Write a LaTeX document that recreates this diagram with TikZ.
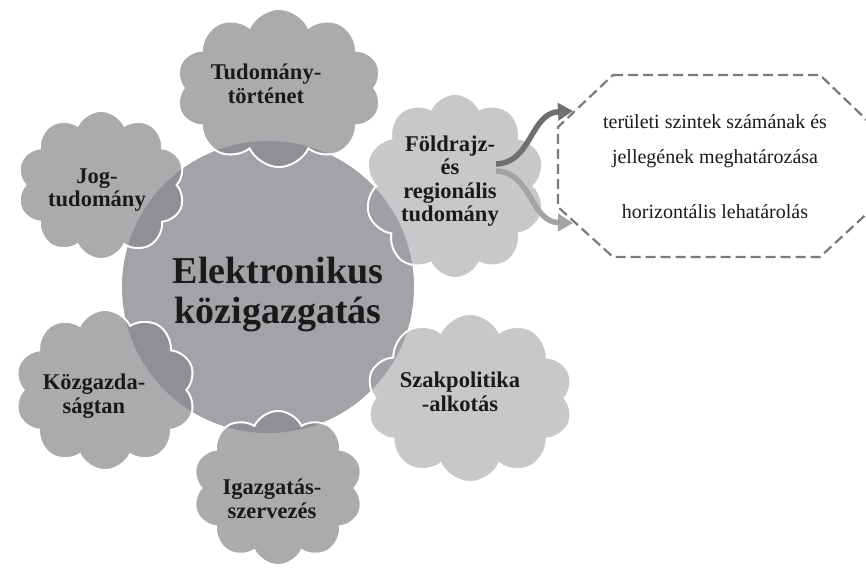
\documentclass[tikz,border=0pt]{standalone}
\usepackage{fontspec}
\setmainfont{Liberation Serif}
\usetikzlibrary{shapes.symbols,arrows.meta}
\definecolor{circfill}{HTML}{A1A3A6}
\definecolor{clouddark}{HTML}{A9ABAD}
\definecolor{cloudlight}{HTML}{C6C8CA}
\definecolor{ovdark}{HTML}{8E9094}
\definecolor{ovlight}{HTML}{9EA0A3}
\definecolor{txt}{HTML}{1A1A1A}
\definecolor{arrdk}{HTML}{6F6F6F}
\definecolor{arrlt}{HTML}{A3A3A3}
\definecolor{dashc}{HTML}{7A7A7A}
\tikzset{
  cloudbox/.style={cloud, cloud puffs=10, cloud puff arc=130, cloud ignores aspect,
    draw=white, line width=1.8pt, inner sep=0pt},
  lbl/.style={font=\fontsize{22.5}{23.5}\selectfont\bfseries, text=txt, align=center, inner sep=0pt},
  bigl/.style={font=\fontsize{38}{40}\selectfont\bfseries, text=txt, align=center, inner sep=0pt},
  htxt/.style={font=\fontsize{20}{24}\selectfont, text=txt, anchor=base, inner sep=0pt},
  arrowline/.style={line width=5.5pt, -{Triangle[length=15pt,width=17pt]}},
}
\begin{document}
\begin{tikzpicture}[x=1pt,y=-1pt]
\useasboundingbox (0,0) rectangle (866,568);
% central circle
\node[circle, fill=circfill, minimum size=292pt, inner sep=0pt] (core) at (268,287) {};
% clouds
\node[cloudbox, fill=clouddark, minimum width=206pt, minimum height=158pt] (ctud) at (279,88) {};
\node[cloudbox, fill=clouddark, minimum width=168pt, minimum height=148pt] (cjog) at (101,185) {};
\node[cloudbox, fill=cloudlight, minimum width=181pt, minimum height=184pt] (cfol) at (455,186) {};
\node[cloudbox, fill=clouddark, minimum width=181pt, minimum height=160pt] (ckoz) at (105,390) {};
\node[cloudbox, fill=clouddark, minimum width=171pt, minimum height=154pt] (cigaz) at (278,488) {};
\node[cloudbox, fill=cloudlight, minimum width=207pt, minimum height=168pt] (cszak) at (470,398) {};
% overlaps with the circle
\begin{scope}
\clip (268,287) circle (146pt);
\node[cloudbox, fill=ovdark, minimum width=206pt, minimum height=158pt] (otud) at (279,88) {};
\node[cloudbox, fill=ovdark, minimum width=168pt, minimum height=148pt] (ojog) at (101,185) {};
\node[cloudbox, fill=ovlight, minimum width=181pt, minimum height=184pt] (ofol) at (455,186) {};
\node[cloudbox, fill=ovdark, minimum width=181pt, minimum height=160pt] (okoz) at (105,390) {};
\node[cloudbox, fill=ovdark, minimum width=171pt, minimum height=154pt] (oigaz) at (278,488) {};
\node[cloudbox, fill=ovlight, minimum width=207pt, minimum height=168pt] (oszak) at (470,398) {};
\end{scope}
% labels
\node[bigl] (lcore) at (278,295) {Elektronikus\\közigazgatás};
\node[lbl] (ltud) at (266,84) {Tudomány-\\történet};
\node[lbl] (ljog) at (97,190) {Jog-\\tudomány};
\node[lbl] (lfol) at (450,181) {Földrajz-\\és\\regionális\\tudomány};
\node[lbl] (lkoz) at (94,396) {Közgazda-\\ságtan};
\node[lbl] (ligaz) at (272,499) {Igazgatás-\\szervezés};
\node[lbl] (lszak) at (460,392) {Szakpolitika\\-alkotás};
% dashed octagon
\coordinate (h1) at (613,75);
\coordinate (h2) at (820,75);
\coordinate (h3) at (874,127);
\coordinate (h4) at (874,207);
\coordinate (h5) at (820,257);
\coordinate (h6) at (613,257);
\coordinate (h7) at (558,207);
\coordinate (h8) at (558,127);
\draw[dashc, line width=2.2pt, dash pattern=on 10pt off 5pt] (h1) -- (h2) -- (h3) -- (h4) -- (h5) -- (h6) -- (h7) -- (h8) -- cycle;
\node[htxt] (t1) at (715,128) {területi szintek számának és};
\node[htxt] (t2) at (715,163) {jellegének meghatározása};
\node[htxt] (t3) at (715,218) {horizontális lehatárolás};
% arrows
\coordinate (a1s) at (496,164);
\coordinate (a1e) at (573,111);
\coordinate (a2s) at (496,171);
\coordinate (a2e) at (573,223);
\draw[arrowline, arrlt] (a2s) .. controls (532,172) and (530,222) .. (a2e);
\draw[arrowline, arrdk] (a1s) .. controls (532,163) and (530,113) .. (a1e);
\end{tikzpicture}
\end{document}
